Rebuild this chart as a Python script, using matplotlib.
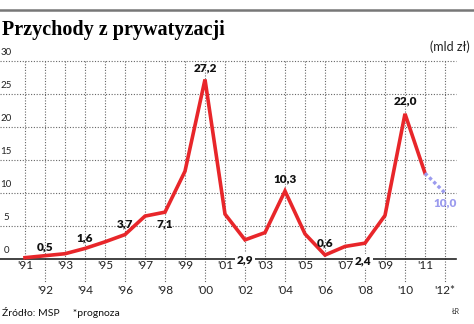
import matplotlib
matplotlib.use("Agg")
import matplotlib.pyplot as plt

years = list(range(1991, 2013))
values = [0.2, 0.5, 0.8, 1.6, 2.6, 3.7, 6.5, 7.1, 13.3, 27.2, 6.8, 2.9,
          4.0, 10.3, 3.8, 0.6, 1.9, 2.4, 6.6, 22.0, 13.0, 10.0]
year_labels = ["'%02d" % (y % 100) for y in years]
year_labels[-1] = "'12*"
y_ticks = [0, 5, 10, 15, 20, 25, 30]

# labelled points: year, text, x offset (years), y offset (units)
annotations = [
    (1992, "0,5", 0.0, 1.3),
    (1994, "1,6", 0.0, 1.6),
    (1996, "3,7", 0.0, 1.6),
    (1998, "7,1", 0.0, -1.8),
    (2000, "27,2", 0.0, 1.8),
    (2002, "2,9", 0.0, -3.0),
    (2004, "10,3", 0.0, 1.9),
    (2006, "0,6", 0.0, 1.9),
    (2008, "2,4", -0.1, -2.7),
    (2010, "22,0", 0.0, 1.9),
]

red = "#e8262a"
fc_col = "#9b9bee"
grid_col = "#666666"

fig = plt.figure(figsize=(4.74, 3.24), dpi=100)
ax = fig.add_axes([0, 0, 1, 1])
ax.set_xlim(1989.75, 1989.75 + 474 / 20)
ax.set_ylim(259 / 6.6 - 324 / 6.6, 259 / 6.6)
ax.axis("off")

xl, xr = 1989.75, 2012.55

# horizontal grid
for t in y_ticks[1:]:
    ax.plot([xl, xr], [t, t], color=grid_col, lw=0.8, ls=(0, (1, 1.5)), zorder=1)
    ax.text(1990.05, t + 0.6, str(t), fontsize=7, family="Lato",
            ha="center", va="bottom", color="#222222")
ax.text(1990.05, 0.6, "0", fontsize=7, family="Lato",
        ha="center", va="bottom", color="#222222")

# vertical grid
for i, y in enumerate(years):
    bottom = -3.6 if i % 2 == 1 else -0.2
    ax.plot([y, y], [30, bottom], color=grid_col, lw=0.8, ls=(0, (1, 1.5)), zorder=1)
    ly = -1.0 if i % 2 == 0 else -4.8
    ax.text(y, ly, year_labels[i], fontsize=8.5, family="Lato",
            ha="center", va="center", color="#222222")

# axis line
ax.plot([xl, xr], [0, 0], color="#222222", lw=1.2, zorder=2)

# main line
ax.plot(years[:-1], values[:-1], color=red, lw=2.6, solid_joinstyle="miter", zorder=3)
ax.plot(years[-2:], values[-2:], color=fc_col, lw=2.4, ls=(0, (1, 0.8)), zorder=3)

for yr, txt, dx, dy in annotations:
    v = values[years.index(yr)]
    ax.text(yr + dx, v + dy, txt, fontsize=8.5, fontweight="heavy", family="Lato",
            ha="center", va="center", color="#111111", zorder=4,
            bbox=dict(fc="white", ec="none", pad=1.2) if v < 3 and dy < 0 else None)
ax.text(2012, values[-1] - 1.5, "10,0", fontsize=8.5, fontweight="heavy", family="Lato",
        ha="center", va="center", color=fc_col, zorder=4)

# title and notes
fig.add_artist(plt.Line2D([0, 1], [1 - 10 / 324, 1 - 10 / 324], color="#777777", lw=1.8))
fig.text(2 / 474, 1 - 30 / 324, "Przychody z prywatyzacji", fontsize=14.5,
         fontweight="bold", family="Liberation Serif", va="center", ha="left")
fig.text(470 / 474, 1 - 47 / 324, "(mld zł)", fontsize=9, family="Lato",
         ha="right", va="center", color="#222222")
fig.text(2 / 474, 1 - 312 / 324, "Źródło: MSP     *prognoza", fontsize=7.5,
         family="Lato", ha="left", va="center", color="#111111")
fig.text(456 / 474, 1 - 312 / 324, "ŁR", fontsize=5, family="Lato",
         ha="center", va="center", color="#333333")

fig.savefig("out.png", dpi=100)
